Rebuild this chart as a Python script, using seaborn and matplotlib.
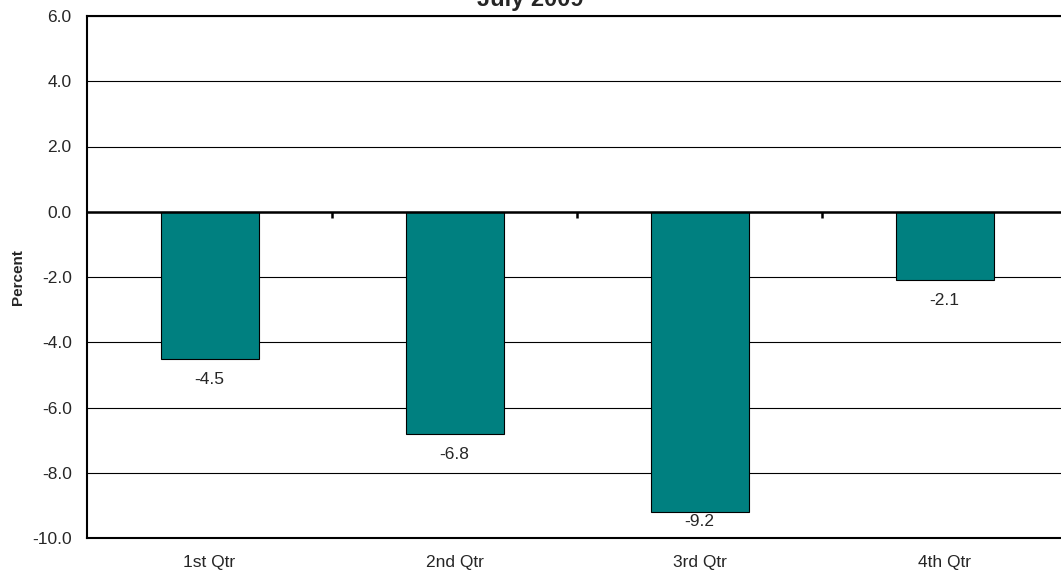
import matplotlib
matplotlib.use("Agg")
import matplotlib.pyplot as plt
import seaborn as sns
import pandas as pd

quarters = ["1st Qtr", "2nd Qtr", "3rd Qtr", "4th Qtr"]
values = [-4.5, -6.8, -9.2, -2.1]
title = "July 2009"

sns.set_style("white")
plt.rcParams["font.family"] = ["Liberation Sans", "DejaVu Sans"]

df = pd.DataFrame({"quarter": quarters, "value": values})

fig = plt.figure(figsize=(10.61, 5.77), dpi=100)
ax = fig.add_axes([87 / 1061, 1 - 538 / 577, 980 / 1061, 522 / 577])

sns.barplot(data=df, x="quarter", y="value", color="#008080", width=0.4,
            edgecolor="black", linewidth=0.8, saturation=1, ax=ax, zorder=3)

ax.set_ylim(-10, 6)
ax.set_xlim(-0.5, 3.5)
ax.set_yticks(range(-10, 7, 2))
ax.set_yticklabels([f"{v:.1f}" for v in range(-10, 7, 2)], fontsize=12.5)
ax.tick_params(axis="y", length=6, width=0.8, color="black", direction="out", pad=5)
ax.tick_params(axis="x", length=0, labelsize=12.5, pad=12)
ax.yaxis.grid(True, color="black", linewidth=0.8, zorder=0)
ax.set_axisbelow(True)

ax.axhline(0, color="black", linewidth=1.8, zorder=4)
ax.vlines([0.5, 1.5, 2.5], -0.2, 0, color="black", linewidth=1.8, zorder=4)

for s in ["left", "bottom", "top"]:
    ax.spines[s].set_color("black")
    ax.spines[s].set_linewidth(1.5)
ax.spines["right"].set_visible(False)

# value labels under the bars, kept inside the plot area
for i, v in enumerate(values):
    ax.text(i, max(v - 0.4, -9.25), f"{v:.1f}", ha="center", va="top", fontsize=12.5)

ax.set_xlabel("")
ax.set_ylabel("Percent", fontsize=11, fontweight="bold", labelpad=5)

fig.text(0.5, 1 - 6 / 577, title, ha="center", va="baseline",
         fontsize=17, fontweight="bold")

fig.savefig("out.png", dpi=100)
